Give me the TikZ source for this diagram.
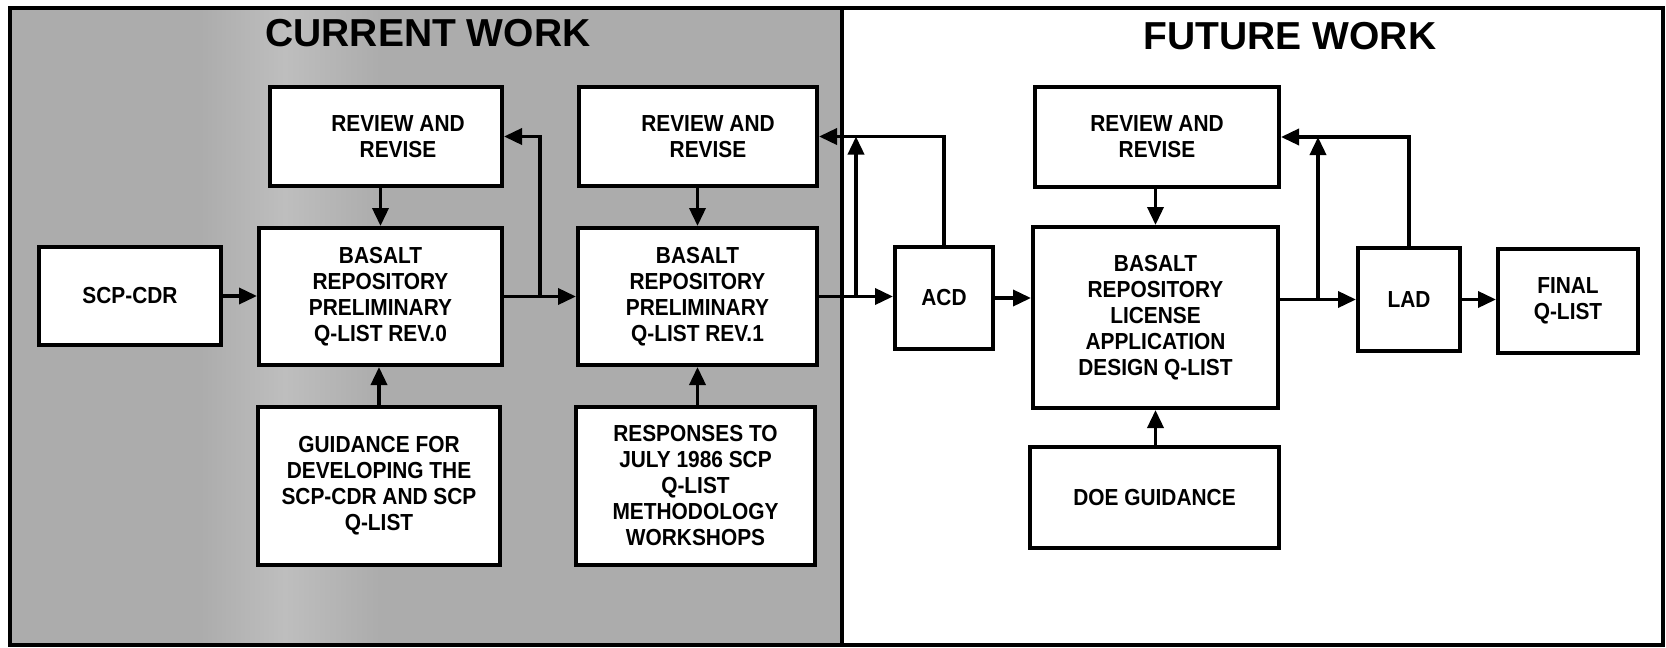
\documentclass[tikz,border=0pt]{standalone}
\usepackage{fontspec}
\setmainfont{Liberation Sans}
\newfontfamily\boxfont[FakeStretch=0.9]{Liberation Sans}
\usetikzlibrary{arrows.meta,calc}

\definecolor{screen}{RGB}{172,172,172}
\definecolor{screenlight}{RGB}{190,190,190}

\begin{document}
\begin{tikzpicture}[x=0.5pt,y=-0.5pt,
  stage/.style={draw=black, line width=2pt, fill=white, inner sep=0pt, align=center,
    font=\boxfont\bfseries\fontsize{11.6}{13}\selectfont},
  size/.style 2 args={minimum width=#1*0.5pt, minimum height=#2*0.5pt},
  link/.style={line width=1.8pt, -{Triangle[length=9pt,width=8pt]}},
  heading/.style={font=\bfseries\fontsize{19.5}{22}\selectfont, inner sep=0pt}]

\useasboundingbox (0,0) rectangle (1666,648);

% screened panel for the current work
\fill[screen] (10,8) rectangle (842,645);
\shade[left color=screen, right color=screenlight] (200,8) rectangle (285,645);
\shade[left color=screenlight, right color=screen] (285,8) rectangle (380,645);

% frame and divider
\draw[line width=2pt] (10,8) rectangle (1663,645);
\draw[line width=2pt] (842,8) -- (842,645);

% headings
\node[heading] (tcur) at (428,33) {CURRENT WORK};
\node[heading] (tfut) at (1290,36) {FUTURE WORK};

% current work
\node[stage, size={182}{98}]  (scp) at (130,296)    {SCP-CDR};
\node[stage, size={232}{99}]  (r1)  at (386,136.5)  {\hspace*{12pt}REVIEW AND\\\hspace*{12pt}REVISE};
\node[stage, size={243}{137}] (b0)  at (380.5,296.5){BASALT\\REPOSITORY\\PRELIMINARY\\Q-LIST REV.0};
\node[stage, size={242}{158}] (g)   at (379,486)    {GUIDANCE FOR\\DEVELOPING THE\\SCP-CDR AND SCP\\Q-LIST};
\node[stage, size={238}{99}]  (r2)  at (698,136.5)  {\hspace*{10pt}REVIEW AND\\\hspace*{10pt}REVISE};
\node[stage, size={239}{137}] (b1)  at (697.5,296.5){BASALT\\REPOSITORY\\PRELIMINARY\\Q-LIST REV.1};
\node[stage, size={239}{158}] (rsp) at (695.5,486)  {RESPONSES TO\\JULY 1986 SCP\\Q-LIST\\METHODOLOGY\\WORKSHOPS};

% future work
\node[stage, size={98}{102}]  (acd) at (944,298)    {ACD};
\node[stage, size={244}{100}] (r3)  at (1157,137)   {REVIEW AND\\REVISE};
\node[stage, size={245}{181}] (bl)  at (1155.5,317.5){BASALT\\REPOSITORY\\LICENSE\\APPLICATION\\DESIGN Q-LIST};
\node[stage, size={249}{101}] (doe) at (1154.5,497.5){DOE GUIDANCE};
\node[stage, size={102}{103}] (lad) at (1409,299.5) {LAD};
\node[stage, size={140}{104}] (fin) at (1568,301)   {FINAL\\Q-LIST};

% main flow
\draw[link] (scp.east) -- (scp.east -| b0.west);
\draw[link] (b0.east) -- (b0.east -| b1.west);
\draw[link] (b1.east) -- (b1.east -| acd.west);
\draw[link] (acd.east) -- (acd.east -| bl.west);
\draw[link] (lad.west -| bl.east) -- (lad.west);
\draw[link] (lad.east) -- (lad.east -| fin.west);

% branch points on the main flow
\coordinate (j1) at ($(b0.east)!0.5!(b0.east -| b1.west)$);
\coordinate (j2) at ($(b1.east)!0.5!(b1.east -| acd.west)$);
\coordinate (j3) at ($(lad.west -| bl.east)!0.5!(lad.west)$);

% feedback to the review steps
\draw[link] (j1) |- (r1.east);
\draw[link] (acd.north) |- (r2.east);
\draw[link] (j2) -- (j2 |- r2.east);
\draw[link] (lad.north) |- (r3.east);
\draw[link] (j3) -- (j3 |- r3.east);

% review and guidance inputs
\draw[link] (r1.south -| b0.north) -- (b0.north);
\draw[link] (g.north) -- (b0.south -| g.north);
\draw[link] (r2.south -| b1.north) -- (b1.north);
\draw[link] (rsp.north -| b1.south) -- (b1.south);
\draw[link] (r3.south -| bl.north) -- (bl.north);
\draw[link] (doe.north -| bl.south) -- (bl.south);

\end{tikzpicture}
\end{document}
